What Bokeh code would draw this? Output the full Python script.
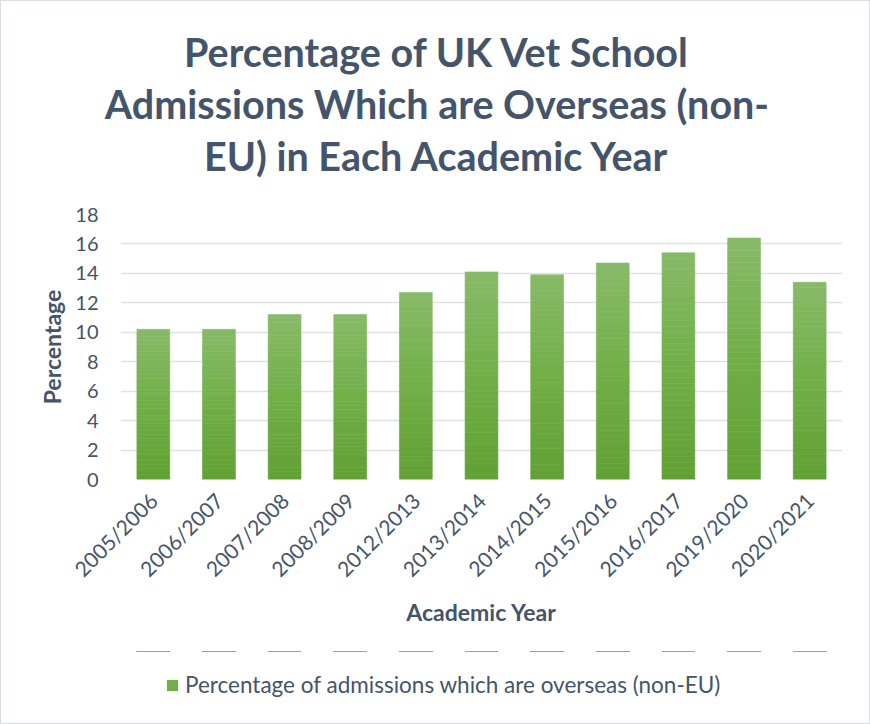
import numpy as np
from bokeh.plotting import figure
from bokeh.layouts import column
from bokeh.models import FactorRange, Range1d, Title, Legend, LegendItem, ColumnDataSource
from bokeh.embed import file_html
from bokeh.resources import INLINE

# ---------------- data ----------------
years = ["2005/2006", "2006/2007", "2007/2008", "2008/2009", "2012/2013",
         "2013/2014", "2014/2015", "2015/2016", "2016/2017", "2019/2020", "2020/2021"]
percentages = [10.2, 10.2, 11.2, 11.2, 12.7, 14.1, 13.9, 14.7, 15.4, 16.4, 13.4]
y_ticks = [0, 2, 4, 6, 8, 10, 12, 14, 16, 18]
title_lines = ["Percentage of UK Vet School",
               "Admissions Which are Overseas (non-",
               "EU) in Each Academic Year"]
legend_label = "Percentage of admissions which are overseas (non-EU)"
x_title = "Academic Year"
y_title = "Percentage"

# ---------------- styles ----------------
FONT = "Lato"
TEXT = "#44546A"
GRID = "#DEE2E7"
C_TOP = np.array([0x88, 0xBA, 0x69])
C_MID = np.array([0x71, 0xAF, 0x47])
C_BOT = np.array([0x61, 0xA0, 0x33])


def grad(t):
    if t < 0.5:
        c = C_BOT + (C_MID - C_BOT) * (t / 0.5)
    else:
        c = C_MID + (C_TOP - C_MID) * ((t - 0.5) / 0.5)
    return "#%02x%02x%02x" % tuple(int(round(v)) for v in c)


N = 40
xs, bots, tops, cols = [], [], [], []
for cat, v in zip(years, percentages):
    for k in range(N):
        xs.append(cat)
        bots.append(v * k / N)
        tops.append(v * (k + 1) / N)
        cols.append(grad((k + 0.5) / N))
src = ColumnDataSource(dict(x=xs, bottom=bots, top=tops, color=cols))

W, H_MAIN, H_LEG = 868, 650, 72

x_range = FactorRange(*years)
p = figure(width=W, height=H_MAIN, x_range=x_range, y_range=Range1d(0, 18),
           output_backend="svg", toolbar_location=None, title=None,
           min_border_left=119, min_border_right=27, min_border_top=213, min_border_bottom=172)
p.outline_line_color = None
p.background_fill_color = "white"
p.border_fill_color = "white"

r = p.vbar(x="x", bottom="bottom", top="top", width=0.5, source=src,
           fill_color="color", line_color="color", line_width=0.6)

p.xgrid.grid_line_color = None
p.ygrid.grid_line_color = GRID
p.ygrid.grid_line_width = 1.5
p.ygrid.level = "underlay"

p.yaxis.ticker = y_ticks
p.yaxis.axis_line_color = None
p.yaxis.major_tick_line_color = None
p.yaxis.minor_tick_line_color = None
p.yaxis.major_tick_out = 0
p.yaxis.major_tick_in = 0
p.yaxis.major_label_text_font = FONT
p.yaxis.major_label_text_font_size = "20px"
p.yaxis.major_label_text_color = TEXT
p.yaxis.major_label_standoff = 22
p.yaxis.axis_label = y_title
p.yaxis.axis_label_text_font = FONT
p.yaxis.axis_label_text_font_size = "23px"
p.yaxis.axis_label_text_font_style = "bold"
p.yaxis.axis_label_text_color = TEXT
p.yaxis.axis_label_standoff = 6

p.xaxis.axis_line_color = None
p.xaxis.major_tick_line_color = None
p.xaxis.major_tick_out = 0
p.xaxis.major_tick_in = 0
p.xaxis.major_label_orientation = np.pi / 4
p.xaxis.major_label_text_font = FONT
p.xaxis.major_label_text_font_size = "21px"
p.xaxis.major_label_text_color = TEXT
p.xaxis.major_label_standoff = 17
p.xaxis.axis_label = x_title
p.xaxis.axis_label_text_font = FONT
p.xaxis.axis_label_text_font_size = "23px"
p.xaxis.axis_label_text_font_style = "bold"
p.xaxis.axis_label_text_color = TEXT
p.xaxis.axis_label_standoff = 5

# gap between the plot frame and the title block (blank title line, closest to the frame)
p.add_layout(Title(text="\u00a0", text_font_size="1px", standoff=31, text_color="white"), "above")

# title lines: added from the frame outward; trailing em spaces shift the centring left
PAD = "\u2003\u2003\u2003"
for line in reversed(title_lines):
    p.add_layout(Title(text=line + PAD, align="center", text_font=FONT, text_font_style="bold",
                       text_font_size="39.5px", text_color=TEXT, standoff=3), "above")

# legend in its own strip below the chart (frame aligned with the chart's frame)
q = figure(width=W, height=H_LEG, x_range=x_range, y_range=Range1d(-1001, -1000),
           output_backend="svg", toolbar_location=None, min_border=0)
q.axis.visible = False
q.grid.visible = False
q.outline_line_color = None
q.border_fill_color = "white"
q.background_fill_color = "white"
lr = q.vbar(x="x", bottom="bottom", top="top", width=0.5, source=src,
            fill_color="color", line_color=None)
legend = Legend(items=[LegendItem(label=legend_label, renderers=[lr], index=N // 2)],
                location=(45, 25), orientation="horizontal",
                border_line_color=None, background_fill_alpha=0,
                label_text_font=FONT, label_text_font_size="22.5px", label_text_color=TEXT,
                glyph_width=14, glyph_height=14, label_standoff=6,
                padding=0, margin=0, label_height=20)
q.add_layout(legend, "center")

layout = column(p, q, spacing=0, styles={"border": "1px solid #D9DDE3"})

open("out.html", "w").write(file_html(layout, INLINE))
